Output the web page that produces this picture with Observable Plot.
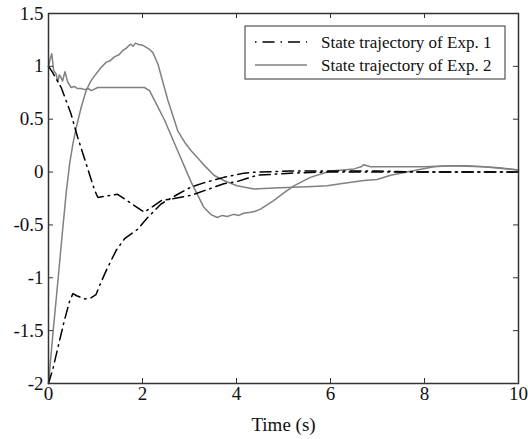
<!DOCTYPE html>
<html>
<head>
<meta charset="utf-8">
<script src="https://cdn.jsdelivr.net/npm/d3@7"></script>
<script src="https://cdn.jsdelivr.net/npm/@observablehq/plot@0.6"></script>
<style>
  html, body { margin: 0; padding: 0; background: #fff; }
  #chart { position: relative; width: 528px; height: 439px; }
</style>
</head>
<body>
<div id="chart"></div>
<script>
// ---- Data ----
const seriesNames = ["State trajectory of Exp. 1", "State trajectory of Exp. 2"];

// Exp. 1, state starting at 1
const exp1A_t = [0, 0.09, 0.27, 0.48, 0.62, 0.80, 0.98, 1.05, 1.47, 1.97, 2.04, 2.40, 2.67, 3.02, 3.16, 3.73, 4.01, 4.44, 5.15, 5.86, 7, 8, 9, 10];
const exp1A_v = [1.0, 0.94, 0.80, 0.55, 0.33, 0.08, -0.17, -0.24, -0.21, -0.36, -0.38, -0.27, -0.25, -0.22, -0.20, -0.11, -0.09, -0.03, -0.01, 0.0, 0.0, 0.0, 0.0, 0.0];

// Exp. 1, state starting at -2
const exp1B_t = [0, 0.1, 0.2, 0.34, 0.45, 0.52, 0.6, 0.77, 0.9, 1.01, 1.1, 1.23, 1.44, 1.62, 1.90, 2.11, 2.40, 2.75, 3.04, 3.32, 3.73, 4.16, 4.44, 5.15, 6, 7, 8, 9, 10];
const exp1B_v = [-2.0, -1.85, -1.66, -1.40, -1.22, -1.15, -1.17, -1.20, -1.19, -1.16, -1.06, -0.93, -0.74, -0.63, -0.54, -0.43, -0.30, -0.21, -0.14, -0.10, -0.05, -0.01, 0.0, 0.01, 0.01, 0.01, 0.0, 0.0, 0.0];

// Exp. 2, state starting at -2 (peaks near 1.2)
const exp2A_t = [0, 0.1, 0.2, 0.3, 0.38, 0.45, 0.52, 0.59, 0.7, 0.80, 0.9, 0.98, 1.1, 1.23, 1.3, 1.40, 1.5, 1.58, 1.65, 1.74, 1.8, 1.85, 1.90, 2.0, 2.08, 2.15, 2.22, 2.33, 2.54, 2.75, 2.9, 3.04, 3.28, 3.52, 3.73, 4.01, 4.37, 4.79, 5.50, 5.93, 6.21, 6.71, 6.99, 7.28, 7.84, 8.2, 8.55, 8.9, 9.26, 9.6, 10];
const exp2A_v = [-2.0, -1.5, -1.03, -0.55, -0.18, 0.08, 0.27, 0.42, 0.62, 0.77, 0.86, 0.91, 0.98, 1.04, 1.05, 1.09, 1.11, 1.15, 1.17, 1.21, 1.19, 1.22, 1.21, 1.20, 1.18, 1.16, 1.13, 1.02, 0.68, 0.39, 0.28, 0.20, 0.08, -0.03, -0.08, -0.13, -0.16, -0.15, -0.14, -0.13, -0.11, -0.08, -0.07, -0.03, 0.02, 0.05, 0.06, 0.06, 0.05, 0.04, 0.02];

// Exp. 2, state starting at 1 (plateau near 0.8)
const exp2B_t = [0, 0.03, 0.07, 0.11, 0.16, 0.2, 0.23, 0.26, 0.3, 0.35, 0.41, 0.48, 0.55, 0.62, 0.7, 0.77, 0.85, 0.91, 1.05, 1.33, 1.7, 2.04, 2.15, 2.3, 2.47, 2.75, 3.04, 3.30, 3.45, 3.59, 3.7, 3.8, 3.94, 4.05, 4.15, 4.30, 4.4, 4.51, 4.65, 4.79, 5.0, 5.22, 5.57, 6.0, 6.5, 6.65, 6.71, 6.85, 7.28, 7.49, 8.0, 8.55, 9.26, 10];
const exp2B_v = [1.0, 1.06, 1.12, 0.96, 0.93, 0.85, 0.92, 0.90, 0.86, 0.95, 0.85, 0.80, 0.81, 0.79, 0.79, 0.78, 0.79, 0.77, 0.80, 0.80, 0.80, 0.80, 0.77, 0.64, 0.49, 0.20, -0.10, -0.33, -0.40, -0.43, -0.41, -0.42, -0.40, -0.41, -0.39, -0.38, -0.37, -0.35, -0.31, -0.27, -0.20, -0.13, -0.05, 0.01, 0.03, 0.05, 0.07, 0.05, 0.05, 0.05, 0.05, 0.06, 0.05, 0.02];

const xTicks = [0, 2, 4, 6, 8, 10];
const yTicks = [-2, -1.5, -1, -0.5, 0, 0.5, 1, 1.5];

// ---- Build tables ----
const toRows = (ts, vs) => ts.map((t, i) => ({t, v: vs[i]}));
const e1a = toRows(exp1A_t, exp1A_v);
const e1b = toRows(exp1B_t, exp1B_v);
const e2a = toRows(exp2A_t, exp2A_v);
const e2b = toRows(exp2B_t, exp2B_v);

const dashStyle = "11,5,1.5,5";
const grey = "#808080";
const frameColor = "#333";
const serif = "'Liberation Serif', 'Times New Roman', serif";

const W = 528, H = 439;
const mL = 48, mR = 10, mT = 13, mB = 56;
const innerW = W - mL - mR, innerH = H - mT - mB;
const tickLen = 5;

const chart = Plot.plot({
  width: W,
  height: H,
  marginLeft: mL,
  marginRight: mR,
  marginTop: mT,
  marginBottom: mB,
  style: {fontFamily: serif, fontSize: "19px", color: "#111", background: "#fff"},
  x: {domain: [0, 10]},
  y: {domain: [-2, 1.5]},
  marks: [
    Plot.line(e2a, {x: "t", y: "v", stroke: grey, strokeWidth: 1.5}),
    Plot.line(e2b, {x: "t", y: "v", stroke: grey, strokeWidth: 1.5}),
    Plot.line(e1a, {x: "t", y: "v", stroke: "#000", strokeWidth: 1.5, strokeDasharray: dashStyle}),
    Plot.line(e1b, {x: "t", y: "v", stroke: "#000", strokeWidth: 1.5, strokeDasharray: dashStyle}),
    // inward tick marks on all four sides
    Plot.tickX(xTicks.slice(1, -1), {x: d => d, insetTop: innerH - tickLen, stroke: frameColor}),
    Plot.tickX(xTicks.slice(1, -1), {x: d => d, insetBottom: innerH - tickLen, stroke: frameColor}),
    Plot.tickY(yTicks.slice(1, -1), {y: d => d, insetRight: innerW - tickLen, stroke: frameColor}),
    Plot.tickY(yTicks.slice(1, -1), {y: d => d, insetLeft: innerW - tickLen, stroke: frameColor}),
    Plot.axisX({ticks: xTicks, tickSize: 0, tickPadding: 3, tickFormat: d => String(d), fontSize: 19,
      label: "Time (s)", labelAnchor: "center", labelArrow: "none", labelOffset: 47}),
    Plot.axisY({ticks: yTicks, tickSize: 0, tickPadding: 5, tickFormat: d => String(d), fontSize: 19, label: null}),
    Plot.frame({stroke: frameColor, strokeWidth: 1.5})
  ]
});

document.getElementById("chart").appendChild(chart);

// ---- Legend (drawn inside the SVG) ----
const svg = d3.select(chart);
const lg = svg.append("g").attr("class", "legend").attr("text-anchor", "start");
const lx = 245, ly = 26, lw = 260, lh = 53;
lg.append("rect").attr("x", lx).attr("y", ly).attr("width", lw).attr("height", lh)
  .attr("fill", "#fff").attr("stroke", frameColor).attr("stroke-width", 1);
const legendItems = [
  {name: seriesNames[0], stroke: "#000", dash: "1.5,6,12,6"},
  {name: seriesNames[1], stroke: grey, dash: null}
];
legendItems.forEach((it, i) => {
  const yy = ly + 16 + i * 23;
  const ln = lg.append("line").attr("x1", lx + 10).attr("x2", lx + 62).attr("y1", yy).attr("y2", yy)
    .attr("stroke", it.stroke).attr("stroke-width", 1.5);
  if (it.dash) ln.attr("stroke-dasharray", it.dash);
  lg.append("text").attr("x", lx + 76).attr("y", yy).attr("dy", "0.35em")
    .attr("text-anchor", "start")
    .attr("font-size", 17).attr("fill", "#111")
    .attr("font-family", serif)
    .text(it.name);
});
</script>
</body>
</html>
